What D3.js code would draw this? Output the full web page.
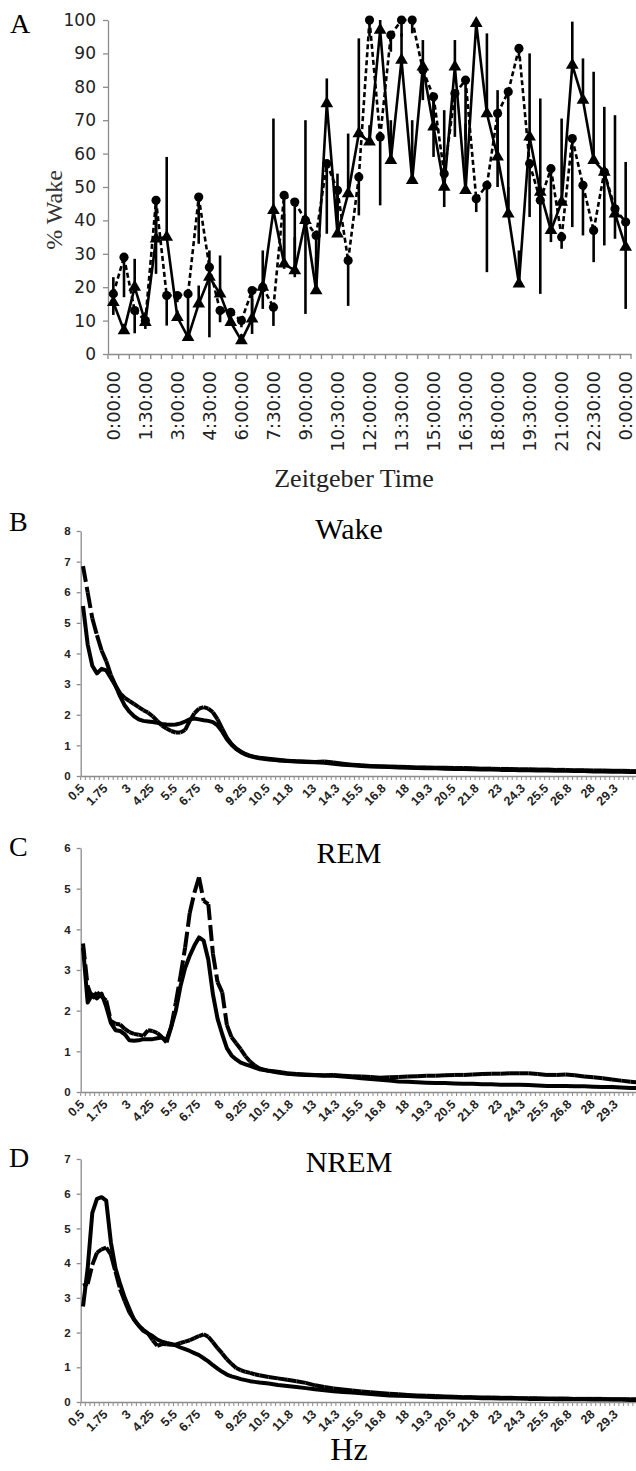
<!DOCTYPE html>
<html lang="en">
<head>
<meta charset="UTF-8">
<script src="https://d3js.org/d3.v7.min.js"></script>
<style>
    body { margin: 0; background: #fff; }
    svg { display: block; }
</style>
<title>Wake / spectra</title>
</head>
<body>
<div class="canvas"></div>
<script>
const width = 636;
const height = 1471;

// ---------- panel A data (30 min bins)
const times = ["0:00:00","0:30:00","1:00:00","1:30:00","2:00:00","2:30:00","3:00:00","3:30:00","4:00:00","4:30:00",
    "5:00:00","5:30:00","6:00:00","6:30:00","7:00:00","7:30:00","8:00:00","8:30:00","9:00:00","9:30:00",
    "10:00:00","10:30:00","11:00:00","11:30:00","12:00:00","12:30:00","13:00:00","13:30:00","14:00:00","14:30:00",
    "15:00:00","15:30:00","16:00:00","16:30:00","17:00:00","17:30:00","18:00:00","18:30:00","19:00:00","19:30:00",
    "20:00:00","20:30:00","21:00:00","21:30:00","22:00:00","22:30:00","23:00:00","23:30:00","0:00:00"];
const pctTicks = [0,10,20,30,40,50,60,70,80,90,100];
// solid line, triangles, error bar up
const wakeTri = [15.5,7,20,9.5,34.5,35,11,5,15,23,18,9.5,4,10.5,20,43,27,25,40,19,75,36,48,66,63.5,
    97,58,88,52,86,68,50,86,49,99,72,59,42,21,65,48.5,37,45.5,86.5,76,58,54.5,42,32];
const wakeTriErr = [7.5,2,8.5,3,10,24,2,2,5.5,8,11.5,2,2,6,11,27.5,15,10,30,10,7.5,18,18,28.5,5,
    3,12,8,18,8,8,23,8,20,2,24,20,8,10,25,28,5,25,13,12.5,26.5,19.5,29.5,25.5];
// dashed line, circles, error bar down
const wakeCirc = [18,29,13,10,46,17.5,17.5,18,47,26,13,12.5,10,19,20,14,47.5,45.5,40,35.5,57,49,28,53,100,
    65,95.5,100,100,85,77,54,78,82,46.5,50.5,72,78.5,91.5,57,46,55.5,35,64.5,50.5,37,54.5,43.5,39.5];
const wakeCircErr = [6.3,12,6.8,2.5,22,9,2,13,14,21,3.5,3,2,13,6.5,5.6,22,22.5,28,14,21,12,13.6,11.5,5,
    20.5,5,5,4,9,18,10,13,18,4,26,22,36,3,16,28,22,3.5,26.5,15,9.5,22,9,26];

// ---------- spectra (Hz bins)
const hz = [0.5,0.75,1,1.25,1.5,1.75,2,2.25,2.5,2.75,3,3.25,3.5,3.75,4,4.25,4.5,4.75,5,5.25,
    5.5,5.75,6,6.25,6.5,6.75,7,7.25,7.5,7.75,8,8.25,8.5,8.75,9,9.25,9.5,9.75,10,
    10.5,11,11.5,12,12.5,13,13.5,14,14.5,15,15.5,16,16.5,17,17.5,18,18.5,19,19.5,20,
    20.5,21,21.5,22,22.5,23,23.5,24,24.5,25,25.5,26,26.5,27,27.5,28,28.5,29,29.5,30,30.5];
const hzTickValues = [0.5,1.75,3,4.25,5.5,6.75,8,9.25,10.5,11.75,13,14.25,15.5,16.75,18,19.25,20.5,21.75,23,24.25,25.5,26.75,28,29.25];
const hzLabels = ["0.5","1.75","3","4.25","5.5","6.75","8","9.25","10.5","11.8","13","14.3","15.5","16.8","18","19.3","20.5","21.8","23","24.3","25.5","26.8","28","29.3"];

const wakeSolid = [5.55,4.3,3.6,3.35,3.5,3.45,3.2,2.95,2.6,2.3,2.1,1.95,1.85,1.8,1.78,1.76,1.74,1.7,1.68,1.67,
    1.68,1.72,1.78,1.85,1.88,1.85,1.82,1.8,1.76,1.65,1.45,1.2,1.02,0.88,0.78,0.7,0.65,0.61,0.58,
    0.54,0.51,0.49,0.47,0.46,0.45,0.43,0.4,0.37,0.35,0.33,0.31,0.3,0.29,0.28,0.27,0.26,0.25,0.25,0.24,
    0.23,0.23,0.22,0.21,0.21,0.2,0.2,0.19,0.19,0.18,0.18,0.17,0.17,0.16,0.16,0.15,0.15,0.14,0.14,0.13,0.13];
const wakeDash = [6.85,6.0,5.15,4.6,4.1,3.75,3.3,2.95,2.7,2.55,2.45,2.35,2.25,2.15,2.07,1.95,1.8,1.65,1.55,1.47,
    1.42,1.42,1.5,1.8,2.05,2.2,2.25,2.2,2.08,1.85,1.55,1.25,1.05,0.9,0.8,0.72,0.66,0.62,0.6,
    0.56,0.53,0.5,0.48,0.47,0.46,0.47,0.44,0.4,0.37,0.35,0.33,0.32,0.31,0.3,0.29,0.28,0.28,0.27,0.27,
    0.26,0.26,0.25,0.24,0.24,0.23,0.23,0.22,0.22,0.21,0.21,0.2,0.2,0.19,0.19,0.18,0.18,0.17,0.17,0.16,0.16];

const remSolid = [3.55,2.2,2.4,2.3,2.42,2.1,1.7,1.52,1.5,1.42,1.27,1.26,1.27,1.3,1.3,1.3,1.32,1.34,1.28,1.6,
    2.0,2.6,3.05,3.35,3.6,3.8,3.72,3.25,2.4,1.8,1.42,1.08,0.9,0.8,0.72,0.68,0.64,0.6,0.56,
    0.52,0.48,0.45,0.43,0.42,0.41,0.4,0.4,0.38,0.36,0.34,0.32,0.3,0.28,0.26,0.25,0.24,0.23,0.22,0.22,
    0.21,0.2,0.2,0.19,0.19,0.18,0.18,0.18,0.17,0.16,0.15,0.15,0.15,0.14,0.14,0.13,0.12,0.12,0.11,0.1,0.1];
const remDash = [3.65,2.6,2.3,2.45,2.35,2.25,1.75,1.68,1.66,1.55,1.47,1.43,1.41,1.38,1.52,1.5,1.45,1.35,1.22,1.6,
    2.2,2.85,3.55,4.4,4.9,5.28,4.7,4.62,3.4,2.7,2.45,1.65,1.35,1.2,1.05,0.88,0.75,0.65,0.58,
    0.52,0.5,0.46,0.44,0.43,0.42,0.41,0.42,0.4,0.39,0.38,0.37,0.35,0.36,0.37,0.38,0.39,0.4,0.4,0.41,
    0.42,0.42,0.43,0.44,0.45,0.45,0.46,0.46,0.46,0.44,0.42,0.42,0.43,0.41,0.38,0.36,0.34,0.31,0.28,0.25,0.23];

const nremSolid = [2.75,3.85,5.45,5.85,5.9,5.8,4.6,3.85,3.4,3.0,2.68,2.37,2.2,2.05,1.97,1.9,1.8,1.74,1.7,1.67,
    1.63,1.57,1.52,1.47,1.41,1.35,1.26,1.17,1.06,0.96,0.87,0.79,0.74,0.7,0.66,0.63,0.6,0.58,0.56,
    0.53,0.49,0.46,0.43,0.4,0.37,0.34,0.31,0.29,0.27,0.25,0.23,0.21,0.19,0.18,0.17,0.16,0.15,0.14,0.14,
    0.13,0.12,0.12,0.11,0.11,0.1,0.1,0.1,0.09,0.09,0.09,0.08,0.08,0.08,0.08,0.07,0.07,0.07,0.07,0.06,0.06];
const nremDash = [3.35,3.4,3.95,4.3,4.4,4.45,4.25,3.75,3.25,2.9,2.58,2.38,2.2,2.08,1.98,1.78,1.62,1.67,1.66,1.65,
    1.65,1.7,1.74,1.78,1.84,1.9,1.95,1.88,1.72,1.55,1.4,1.23,1.1,0.98,0.92,0.87,0.84,0.8,0.77,
    0.72,0.68,0.64,0.6,0.55,0.48,0.43,0.39,0.36,0.33,0.3,0.28,0.26,0.24,0.22,0.2,0.19,0.18,0.17,0.16,
    0.15,0.14,0.14,0.13,0.13,0.12,0.12,0.11,0.11,0.11,0.1,0.1,0.1,0.09,0.09,0.09,0.09,0.08,0.08,0.08,0.08];

const serif = '"Liberation Serif", "Times New Roman", serif';
const axisColor = '#8c8c8c';

const svg = d3.select('.canvas')
    .append('svg')
    .attr('width', width)
    .attr('height', height);

function styleAxis(g) {
    g.select('.domain').attr('stroke', axisColor).attr('stroke-width', 1.3);
    g.selectAll('.tick line').attr('stroke', axisColor).attr('stroke-width', 1.3);
}

// Excel restarts the dash pattern on every segment
function dashedLine(g, pts, dash, w) {
    g.append('g').selectAll('path')
        .data(d3.pairs(pts))
        .join('path')
        .attr('d', d => d3.line()(d))
        .attr('fill', 'none')
        .attr('stroke', '#000')
        .attr('stroke-width', w)
        .attr('stroke-dasharray', dash);
}

// ================= A =================
const yA = d3.scaleLinear().domain([0, 100]).range([354, 20]);
const xA = d3.scaleBand().domain(d3.range(times.length)).range([108, 631]);
const cx = i => xA(i) + xA.bandwidth() / 2;
const gA = svg.append('g');

const yAxisA = gA.append('g')
    .attr('transform', 'translate(108,0)')
    .call(d3.axisLeft(yA).tickValues(pctTicks).tickSize(5).tickSizeOuter(0).tickPadding(7));
styleAxis(yAxisA);
yAxisA.selectAll('text')
    .style('font-family', '"DejaVu Sans", Verdana, sans-serif')
    .style('font-size', '17px')
    .attr('fill', '#222');

const xAxisA = gA.append('g')
    .attr('transform', 'translate(0,354)')
    .call(d3.axisBottom(xA)
        .tickValues(xA.domain().filter(i => i % 3 === 0))
        .tickFormat(i => times[i])
        .tickSize(0).tickSizeOuter(0));
styleAxis(xAxisA);
xAxisA.selectAll('text')
    .attr('transform', 'rotate(-90)')
    .attr('text-anchor', 'end')
    .attr('x', -17)
    .attr('y', 0)
    .attr('dy', '0.36em')
    .style('font-family', '"DejaVu Sans", Verdana, sans-serif')
    .style('font-size', '18px')
    .attr('fill', '#222');
// category boundary ticks
xAxisA.append('g').selectAll('line')
    .data(xA.domain().map(i => xA(i)).concat(xA.range()[1]))
    .join('line')
    .attr('x1', d => d).attr('x2', d => d)
    .attr('y1', 0).attr('y2', 5)
    .attr('stroke', axisColor).attr('stroke-width', 1.3);

// error bars
gA.append('g').selectAll('line')
    .data(wakeTri)
    .join('line')
    .attr('x1', (d, i) => cx(i)).attr('x2', (d, i) => cx(i))
    .attr('y1', d => yA(d))
    .attr('y2', (d, i) => yA(Math.min(100, d + wakeTriErr[i])))
    .attr('stroke', '#000').attr('stroke-width', 2.6);
gA.append('g').selectAll('line')
    .data(wakeCirc)
    .join('line')
    .attr('x1', (d, i) => cx(i)).attr('x2', (d, i) => cx(i))
    .attr('y1', d => yA(d))
    .attr('y2', (d, i) => yA(Math.max(0, d - wakeCircErr[i])))
    .attr('stroke', '#000').attr('stroke-width', 2.6);

dashedLine(gA, wakeCirc.map((d, i) => [cx(i), yA(d)]), '5,3', 2.6);
gA.append('path')
    .attr('d', d3.line().x((d, i) => cx(i)).y(d => yA(d))(wakeTri))
    .attr('fill', 'none')
    .attr('stroke', '#000')
    .attr('stroke-width', 2.6)
    .attr('stroke-linejoin', 'round');

gA.append('g').selectAll('path')
    .data(wakeCirc)
    .join('path')
    .attr('d', d3.symbol(d3.symbolCircle, 66))
    .attr('transform', (d, i) => `translate(${cx(i)},${yA(d)})`)
    .attr('fill', '#000');
gA.append('g').selectAll('path')
    .data(wakeTri)
    .join('path')
    .attr('d', d3.symbol(d3.symbolTriangle, 70))
    .attr('transform', (d, i) => `translate(${cx(i)},${yA(d)})`)
    .attr('fill', '#000');

svg.append('text').text('A')
    .attr('x', 10).attr('y', 33)
    .style('font-family', serif).style('font-size', '28px');
svg.append('text').text('% Wake')
    .attr('transform', 'translate(62,210) rotate(-90)')
    .attr('text-anchor', 'middle')
    .style('font-family', serif).style('font-size', '24px').attr('fill', '#333');
svg.append('text').text('Zeitgeber Time')
    .attr('x', 354).attr('y', 487)
    .attr('text-anchor', 'middle')
    .style('font-family', serif).style('font-size', '26px').attr('fill', '#222');

// ================= B, C, D =================
const xS = d3.scaleLinear().domain([0.375, 30.375]).range([80.7, 637.5]);
const minorTicks = d3.range(0, 121).map(k => 0.375 + k * 0.25);

function spectrum(cfg) {
    const g = svg.append('g');
    const y = d3.scaleLinear().domain([0, cfg.ymax]).range([cfg.bottom, cfg.top]);

    const yAxis = g.append('g')
        .attr('transform', 'translate(80.7,0)')
        .call(d3.axisLeft(y).ticks(cfg.ymax).tickSize(4).tickSizeOuter(0).tickPadding(6));
    styleAxis(yAxis);
    yAxis.selectAll('text')
        .style('font-family', '"Liberation Sans", Arial, sans-serif')
        .style('font-size', '11.5px').style('font-weight', 'bold')
        .attr('fill', '#222');

    const xAxis = g.append('g')
        .attr('transform', `translate(0,${cfg.bottom})`)
        .call(d3.axisBottom(xS).tickValues(hzTickValues)
            .tickFormat((d, i) => hzLabels[i]).tickSize(0).tickSizeOuter(0));
    styleAxis(xAxis);
    xAxis.selectAll('text')
        .attr('transform', 'rotate(-45)')
        .attr('text-anchor', 'end')
        .attr('x', -8).attr('y', 6).attr('dy', '0.35em')
        .style('font-family', '"Liberation Sans", Arial, sans-serif')
        .style('font-size', '12.5px').style('font-weight', 'bold')
        .attr('fill', '#222');
    xAxis.append('g').selectAll('line')
        .data(minorTicks)
        .join('line')
        .attr('x1', d => xS(d)).attr('x2', d => xS(d))
        .attr('y1', 0).attr('y2', 4)
        .attr('stroke', axisColor).attr('stroke-width', 1);

    g.append('path')
        .attr('d', d3.line().x((d, i) => xS(hz[i])).y(d => y(d))(cfg.solid))
        .attr('fill', 'none')
        .attr('stroke', '#000')
        .attr('stroke-width', 4)
        .attr('stroke-linejoin', 'round');
    dashedLine(g, cfg.dashed.map((d, i) => [xS(hz[i]), y(d)]), '16,5', 4);

    svg.append('text').text(cfg.letter)
        .attr('x', 9).attr('y', cfg.letterY)
        .style('font-family', serif).style('font-size', '28px');
    svg.append('text').text(cfg.title)
        .attr('x', 349).attr('y', cfg.titleY)
        .attr('text-anchor', 'middle')
        .style('font-family', serif).style('font-size', '30px');
}

spectrum({letter: 'B', letterY: 531, title: 'Wake', titleY: 539,
    top: 531, bottom: 776, ymax: 8, solid: wakeSolid, dashed: wakeDash});
spectrum({letter: 'C', letterY: 856, title: 'REM', titleY: 863,
    top: 848, bottom: 1092, ymax: 6, solid: remSolid, dashed: remDash});
spectrum({letter: 'D', letterY: 1167, title: 'NREM', titleY: 1172,
    top: 1159, bottom: 1402, ymax: 7, solid: nremSolid, dashed: nremDash});

svg.append('text').text('Hz')
    .attr('x', 349).attr('y', 1460)
    .attr('text-anchor', 'middle')
    .style('font-family', serif).style('font-size', '32px');
</script>
</body>
</html>
